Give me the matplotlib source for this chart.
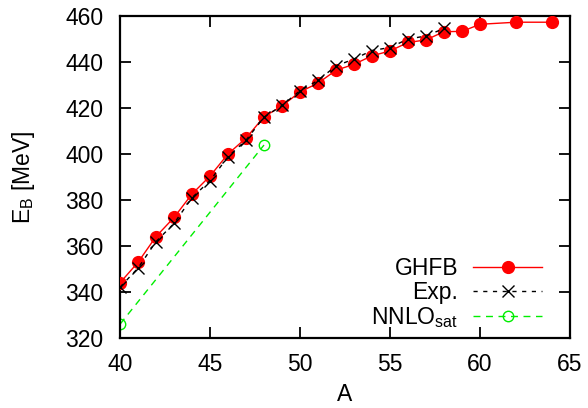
import numpy as np
import matplotlib
matplotlib.use("Agg")
import matplotlib.pyplot as plt

plt.rcParams['font.family'] = ['Liberation Sans', 'DejaVu Sans']
plt.rcParams['mathtext.fontset'] = 'custom'
plt.rcParams['mathtext.rm'] = 'Liberation Sans'
plt.rcParams['mathtext.it'] = 'Liberation Sans'

# GHFB calculation
A_ghfb = [40, 41, 42, 43, 44, 45, 46, 47, 48, 49, 50, 51, 52, 53, 54, 55, 56, 57, 58, 59, 60, 62, 64]
E_ghfb = [344.0, 352.9, 364.1, 372.4, 382.6, 390.4, 400.0, 406.9, 416.2, 420.9, 427.0, 430.8, 436.4,
          439.0, 442.7, 444.8, 448.5, 449.6, 453.2, 453.3, 456.4, 457.3, 457.3]

# experiment
A_exp = [40, 41, 42, 43, 44, 45, 46, 47, 48, 49, 50, 51, 52, 53, 54, 55, 56, 57, 58]
E_exp = [342.1, 350.4, 361.9, 369.8, 381.0, 388.4, 398.8, 406.0, 416.0, 421.1, 427.5, 432.0, 438.3,
         441.3, 445.0, 446.3, 450.0, 451.3, 454.6]

# NNLO_sat
A_nnlo = [40, 48]
E_nnlo = [326.0, 403.9]

fs = 16.5

fig = plt.figure(figsize=(5.88, 4.08), dpi=100)
ax = fig.add_axes([120/588, 70/408, 450/588, 322/408])

ax.plot(A_ghfb, E_ghfb, color='red', lw=1, marker='o', ms=8.5, mfc='red', mec='red', label='GHFB', zorder=3)
ax.plot(A_exp, E_exp, color='black', lw=1, ls=(0, (3, 4)), marker='x', ms=8, mew=1, label='Exp.', zorder=4)
ax.plot(A_nnlo, E_nnlo, color='#00ee00', lw=1, ls=(0, (5, 4)), marker='o', ms=7.5, mfc='none',
        mew=1, label=r'NNLO$_{\rm sat}$', zorder=2)

ax.set_xlim(40, 65)
ax.set_ylim(320, 460)
ax.set_xticks(np.arange(40, 66, 5))
ax.set_yticks(np.arange(320, 461, 20))
ax.tick_params(direction='in', length=8, width=1.3, labelsize=fs, top=True, right=True)
ax.tick_params(axis='x', pad=11)
ax.tick_params(axis='y', pad=12)
for s in ax.spines.values():
    s.set_linewidth(1.6)

ax.set_xlabel('A', fontsize=fs, labelpad=5)
ax.set_ylabel(r'E$_{\rm B}$ [MeV]', fontsize=fs, labelpad=20)

ax.legend(loc='lower right', frameon=False, markerfirst=False, fontsize=fs, handlelength=3.0,
          handletextpad=0.65, labelspacing=0.05, borderaxespad=0, borderpad=0,
          bbox_to_anchor=((542 - 120) / 450, 0.025))

fig.savefig('out.png', dpi=100)
